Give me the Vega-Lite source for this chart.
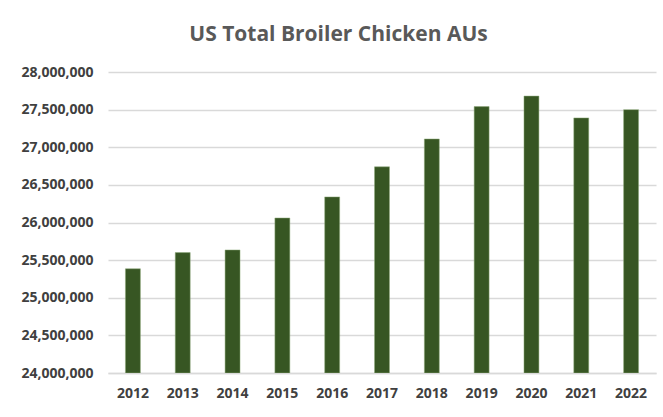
{
  "$schema": "https://vega.github.io/schema/vega-lite/v6.json",
  "autosize": {"type": "fit", "contains": "padding"},
  "width": 663,
  "height": 417,
  "padding": {"left": 20, "right": 7, "top": 24, "bottom": 17},
  "background": "#ffffff",
  "title": {
    "text": "US Total Broiler Chicken AUs",
    "font": "Open Sans",
    "fontSize": 21,
    "fontWeight": "bold",
    "color": "#595959",
    "anchor": "middle",
    "frame": "bounds",
    "offset": 20
  },
  "data": {
    "values": [
      {"year": "2012", "aus": 25385000},
      {"year": "2013", "aus": 25600000},
      {"year": "2014", "aus": 25635000},
      {"year": "2015", "aus": 26060000},
      {"year": "2016", "aus": 26340000},
      {"year": "2017", "aus": 26740000},
      {"year": "2018", "aus": 27110000},
      {"year": "2019", "aus": 27540000},
      {"year": "2020", "aus": 27680000},
      {"year": "2021", "aus": 27390000},
      {"year": "2022", "aus": 27500000}
    ]
  },
  "mark": {"type": "bar", "color": "#375623", "stroke": "#8faa7a", "strokeWidth": 0.5, "clip": true},
  "encoding": {
    "x": {
      "field": "year",
      "type": "ordinal",
      "scale": {"paddingInner": 0.7, "paddingOuter": 0.35},
      "axis": {
        "title": null,
        "labelAngle": 0,
        "ticks": false,
        "domain": true,
        "domainColor": "#d9d9d9",
        "domainWidth": 1.5,
        "labelFont": "Open Sans",
        "labelFontSize": 14,
        "labelFontWeight": "bold",
        "labelColor": "#404040",
        "labelPadding": 13
      }
    },
    "y": {
      "field": "aus",
      "type": "quantitative",
      "scale": {"domain": [24000000, 28000000], "zero": false, "nice": false},
      "axis": {
        "title": null,
        "values": [24000000, 24500000, 25000000, 25500000, 26000000, 26500000, 27000000, 27500000, 28000000],
        "format": ",d",
        "ticks": false,
        "domain": false,
        "gridColor": "#d9d9d9",
        "gridWidth": 1.5,
        "labelFont": "Open Sans",
        "labelFontSize": 14,
        "labelFontWeight": "bold",
        "labelColor": "#404040",
        "labelPadding": 15
      }
    },
    "y2": {"datum": 24000000}
  },
  "config": {"view": {"stroke": null}}
}
